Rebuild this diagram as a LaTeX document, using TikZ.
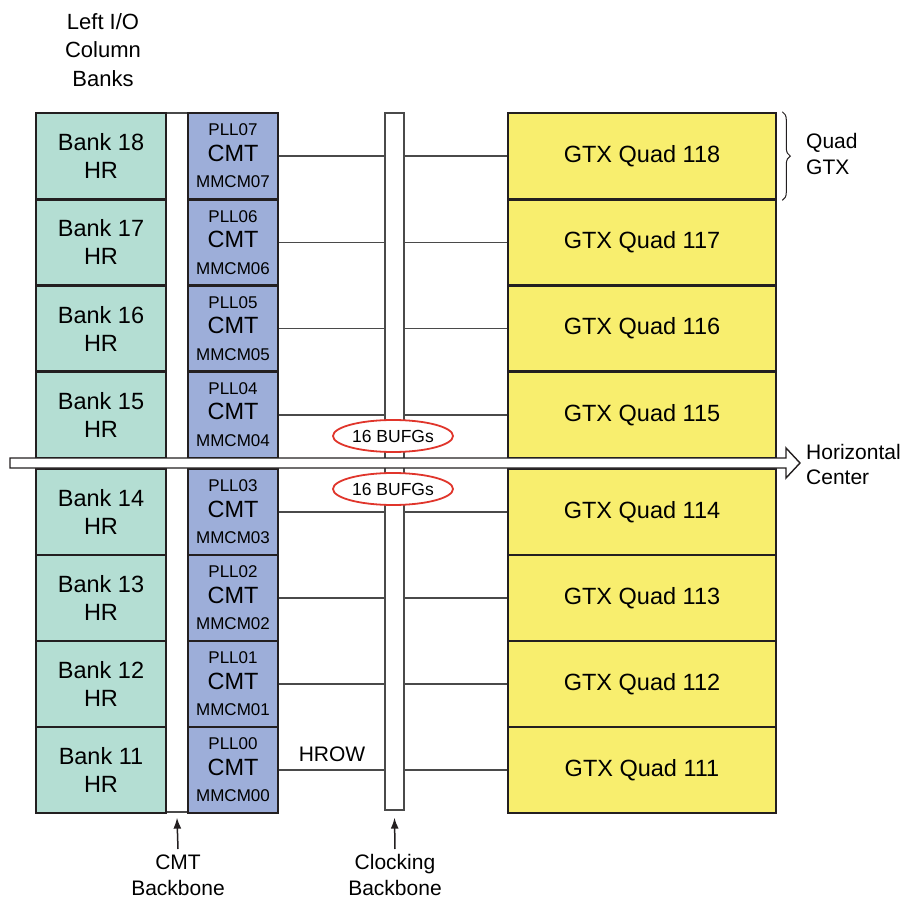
\documentclass[tikz,border=0pt]{standalone}
\usepackage{fontspec}
\setmainfont{Liberation Sans}
\usetikzlibrary{shapes.geometric,decorations.pathreplacing,arrows.meta}
\definecolor{bankfill}{HTML}{B4DED3}
\definecolor{cmtfill}{HTML}{9DAED9}
\definecolor{gtxfill}{HTML}{F8EE6E}
\definecolor{edge}{HTML}{231F20}
\definecolor{linegray}{HTML}{4A4A4A}
\definecolor{bufred}{HTML}{E0352B}
\begin{document}
\begin{tikzpicture}[x=1pt,y=-1pt,
  box/.style={draw=edge, line width=2.6pt, minimum height=86pt, inner sep=0pt, align=center},
  bankbox/.style={box, fill=bankfill, minimum width=130pt, font=\fontsize{23.5}{28}\selectfont},
  cmtbox/.style={box, fill=cmtfill, minimum width=90pt, font=\fontsize{23.5}{28}\selectfont},
  gtxbox/.style={box, fill=gtxfill, minimum width=268pt, font=\fontsize{23.5}{28}\selectfont},
  smalltxt/.style={font=\fontsize{17}{20}\selectfont, inner sep=0pt},
  hrow/.style={draw=linegray, line width=1.3pt},
  backbone/.style={draw=linegray, line width=1.3pt, fill=white, inner sep=0pt},
  lbl/.style={font=\fontsize{21}{26}\selectfont, align=center, inner sep=0pt},
  bufg/.style={ellipse, draw=bufred, line width=1.8pt, fill=white, minimum width=120pt,
    minimum height=32pt, inner sep=0pt, font=\fontsize{17.5}{20}\selectfont},
  uparrow/.style={draw=edge, line width=1.5pt, -{Latex[length=11pt,width=8pt]}}
 ]
\useasboundingbox (0,0) rectangle (903,901);

% backbones
\node[backbone, minimum width=22pt, minimum height=699pt] (cmtbb) at (177,462.5) {};
\node[backbone, minimum width=19pt, minimum height=697pt] (clk) at (394.5,461.5) {};

% rows
\foreach \n/\cy in {18/156.1,17/242.4,16/328.6,15/414.9,14/512,13/598,12/684,11/770}{
  \pgfmathtruncatemacro\k{\n-11}
  \pgfmathtruncatemacro\q{\n+100}
  \node[bankbox] (bank\n) at (101,\cy) {Bank \n\\HR};
  \node[cmtbox] (cmt\n) at (233,\cy) {};
  \node[smalltxt] (pll\n) at ([yshift=26pt]cmt\n.center) {PLL0\k};
  \node[inner sep=0pt, font=\fontsize{23.5}{28}\selectfont] (cmtt\n) at ([yshift=3pt]cmt\n.center) {CMT};
  \node[smalltxt] (mmcm\n) at ([yshift=-26pt]cmt\n.center) {MMCM0\k};
  \node[gtxbox] (gtx\n) at (642,\cy) {GTX Quad \q};
  \draw[hrow] (cmt\n.east) -- (cmt\n.east -| clk.west);
  \draw[hrow] (clk.east |- gtx\n.west) -- (gtx\n.west);
}

% horizontal center bar
\draw[draw=edge, line width=1.4pt, fill=white]
  (10,458) -- (786,458) -- (786,448) -- (800,463) -- (786,478) -- (786,468) -- (10,468) -- cycle;

% BUFG ellipses
\node[bufg] (bufA) at (393,436) {16 BUFGs};
\node[bufg] (bufB) at (393,489) {16 BUFGs};

% labels
\node[lbl, font=\fontsize{22}{28.5}\selectfont] (leftio) at (103,50) {Left I/O\\Column\\Banks};
\node[lbl, anchor=west, align=left] (quadgtx) at (806,154) {Quad\\GTX};
\node[lbl, anchor=west, align=left, font=\fontsize{21}{25}\selectfont] (hcenter) at (806,464.5) {Horizontal\\Center};
\node[lbl] (hrowlbl) at (332,754) {HROW};
\node[lbl] (cmtbblbl) at (178,875) {CMT\\Backbone};
\node[lbl] (clkbblbl) at (395,875) {Clocking\\Backbone};

% brace
\draw[draw=edge, line width=1pt, decorate, decoration={brace, amplitude=8pt}]
  (gtx18.north east) ++(5,0) coordinate (brA) -- (brA |- gtx18.south east);

% backbone arrows
\coordinate (cmtarr) at (178,849);
\coordinate (clkarr) at (395,849);
\draw[uparrow] (cmtarr) -- ([yshift=-5pt]cmtbb.south);
\draw[uparrow] (clkarr) -- ([yshift=-7pt]clk.south);
\end{tikzpicture}
\end{document}
